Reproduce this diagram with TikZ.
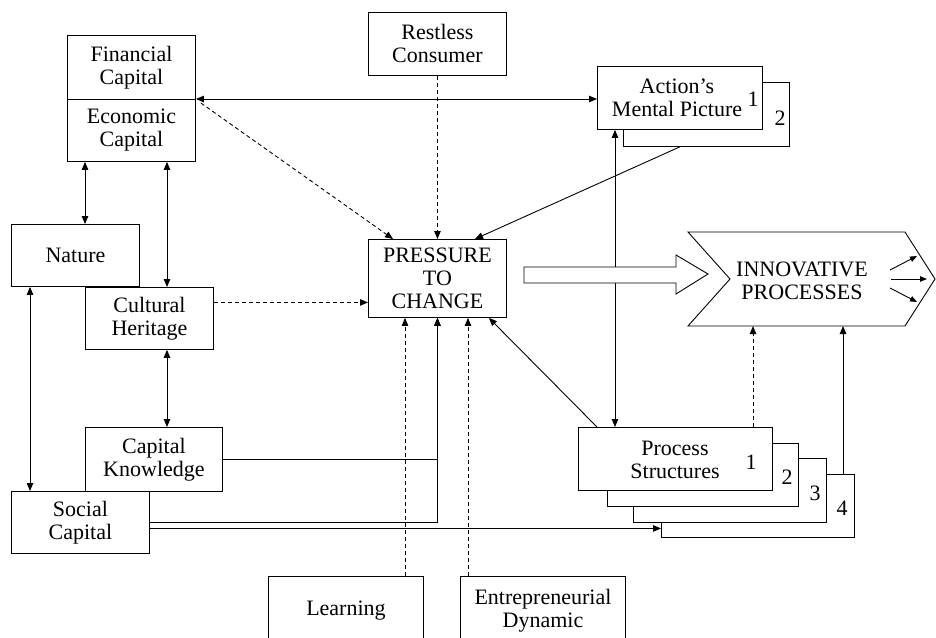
\documentclass[tikz,border=0pt]{standalone}
\usepackage{fontspec}
\setmainfont{Liberation Serif}
\usetikzlibrary{arrows.meta,calc}
\newcommand\dgfont{\fontsize{22}{23}\selectfont}
\begin{document}
\begin{tikzpicture}[x=1pt,y=-1pt,
  >={Triangle[length=8pt,width=6.5pt]},
  box/.style={draw, fill=white, line width=0.9pt, align=center, inner sep=0pt,
              font=\dgfont, anchor=north west},
  wire/.style={line width=0.9pt},
  dsh/.style={wire, dash pattern=on 4pt off 3pt},
  num/.style={font=\dgfont, inner sep=0pt, align=center},
  small/.style={wire, -{Triangle[length=7pt,width=5.5pt]}}]
\useasboundingbox (0,0) rectangle (936,637);

% capital boxes on the left
\node[box, minimum width=128pt, minimum height=64pt] (fin) at (67,35) {Financial\\Capital};
\node[box, minimum width=128pt, minimum height=62pt] (eco) at (67,99) {Economic\\Capital};
\node[box, minimum width=128pt, minimum height=62pt] (nat) at (11,224) {Nature};
\node[box, minimum width=128pt, minimum height=62pt] (cult) at (85,287) {Cultural\\Heritage};
\node[box, minimum width=137pt, minimum height=64pt] (ck) at (85,427) {Capital\\Knowledge};
\node[box, minimum width=138pt, minimum height=62pt] (soc) at (11,491) {Social\\Capital};

% centre column
\node[box, minimum width=138pt, minimum height=63pt] (rest) at (368,12) {Restless\\Consumer};
\node[box, minimum width=138pt, minimum height=78pt] (press) at (368,239) {PRESSURE\\TO\\CHANGE};
\node[box, minimum width=155pt, minimum height=68pt] (learn) at (268,576) {Learning};
\node[box, minimum width=165pt, minimum height=68pt] (entre) at (460,576) {Entrepreneurial\\Dynamic};

% stacked mental pictures
\node[box, minimum width=166pt, minimum height=64pt] (act2) at (623,82) {};
\node[box, minimum width=165pt, minimum height=63pt] (act1) at (597,66) {};
\node[num] (act1t) at (677,98) {Action’s\\Mental Picture};
\node[num] (n1a) at (753,99) {1};
\node[num] (n2a) at (780,118) {2};

% stacked process structures
\node[box, minimum width=193pt, minimum height=63pt] (ps4) at (661,474) {};
\node[box, minimum width=193pt, minimum height=64pt] (ps3) at (633,458) {};
\node[box, minimum width=191pt, minimum height=63pt] (ps2) at (607,443) {};
\node[box, minimum width=194pt, minimum height=63pt] (ps1) at (578,427) {};
\node[num] (ps1t) at (675,460) {Process\\Structures};
\node[num] (n1p) at (751,462) {1};
\node[num] (n2p) at (787,477) {2};
\node[num] (n3p) at (815,493) {3};
\node[num] (n4p) at (842,508) {4};

% connectors at the top
\draw[wire,<->] (eco.north east) -- (eco.north east -| act1.west);
\draw[dsh,->] ($(eco.north east)+(5,4)$) -- ($(press.north west)+(25,0)$);
\draw[dsh,->] (rest.south) -- (press.north);
\draw[wire,->] ($(act2.south west)!0.34!(act2.south east)$) -- ($(press.north west)+(107,0)$);
\coordinate (v1) at ($(act1.south west)+(18,0)$);
\draw[wire,<->] (v1) -- (v1 |- ps1.north);
\draw[wire,->] ($(ps1.north west)+(19,0)$) -- ($(press.south east)+(-18,0)$);

% connectors on the left
\coordinate (l1) at ($(eco.south west)+(18,0)$);
\draw[wire,<->] (l1) -- (l1 |- nat.north);
\coordinate (l2) at ($(eco.south west)+(100,0)$);
\draw[wire,<->] (l2) -- (l2 |- cult.north);
\coordinate (l3) at ($(cult.south west)+(82,0)$);
\draw[wire,<->] (l3) -- (l3 |- ck.north);
\coordinate (l4) at ($(nat.south west)+(19,0)$);
\draw[wire,<->] (l4) -- (l4 |- soc.north);
\coordinate (c1) at ($(cult.east)+(0,-16)$);
\draw[dsh,->] (c1) -- (c1 -| press.west);
\draw[wire,->] (ck.east) -| (press.south);
\draw[wire,->] (soc.east) -| (press.south);
\coordinate (s2) at ($(soc.east)+(0,6)$);
\draw[wire,->] (s2) -- (s2 -| ps4.west);

% connectors from below
\coordinate (d1) at ($(learn.north west)+(137,0)$);
\draw[dsh,->] (d1) -- (d1 |- press.south);
\coordinate (d2) at ($(entre.north west)+(8,0)$);
\draw[dsh,->] (d2) -- (d2 |- press.south);

% hollow arrow and innovation chevron
\draw[wire, fill=white] (524,267) -- (676,267) -- (676,255) -- (708,274)
  -- (676,294) -- (676,283) -- (524,283) -- cycle;
\draw[wire, fill=white] (688,232) -- (905,232) -- (935,279) -- (905,326)
  -- (688,326) -- (730,279) -- cycle;
\coordinate (innoB) at (800,326);
\node[num] (inno) at (802,281) {INNOVATIVE\\PROCESSES};
\draw[small] (890,270) -- (917,256);
\draw[small] (891,279) -- (927,279);
\draw[small] (890,288) -- (917,302);

% links from process structures up to the chevron
\coordinate (u1) at ($(ps1.north west)+(175,0)$);
\draw[dsh,->] (u1) -- (u1 |- innoB);
\coordinate (u2) at ($(ps4.north west)+(182,0)$);
\draw[wire,->] (u2) -- (u2 |- innoB);
\end{tikzpicture}
\end{document}
